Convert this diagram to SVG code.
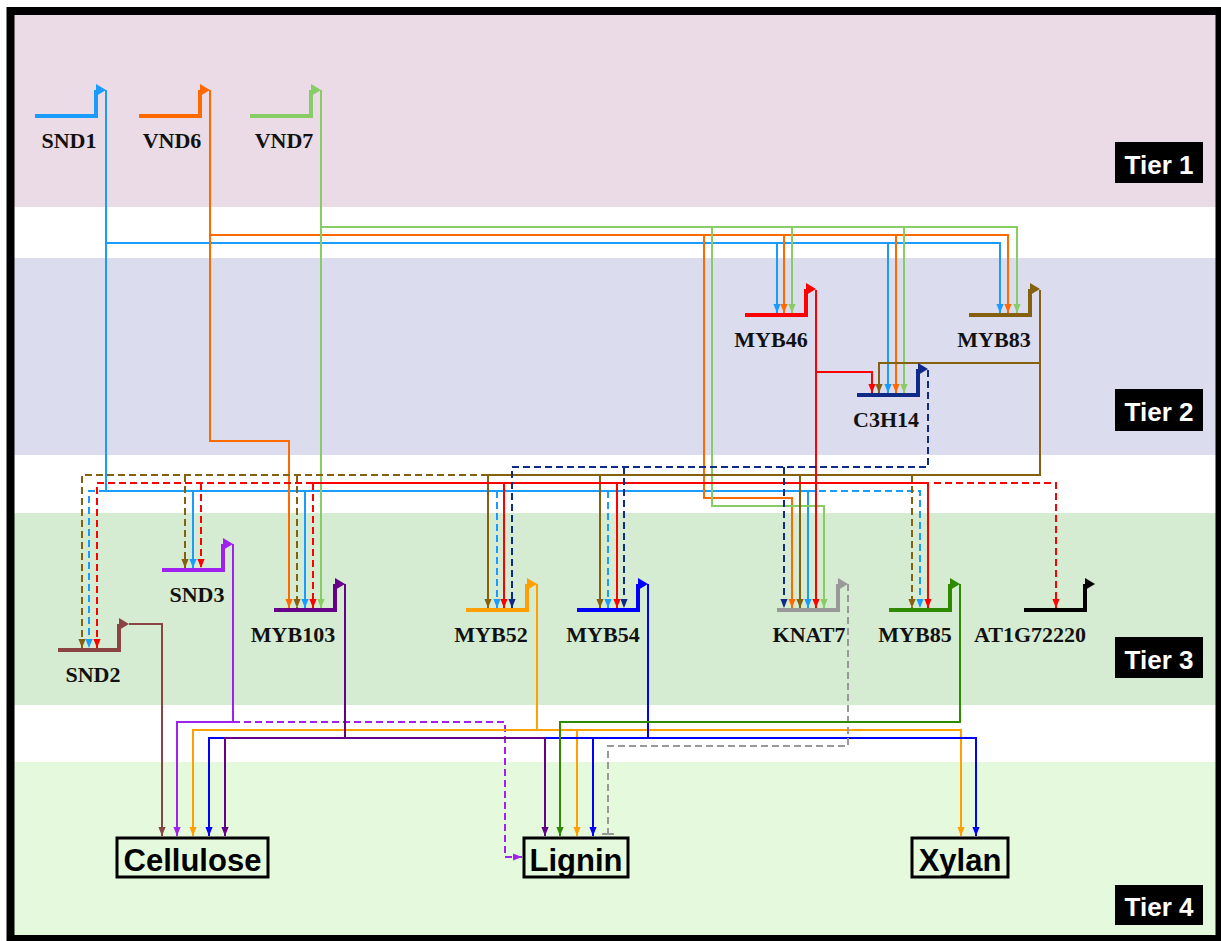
<svg xmlns="http://www.w3.org/2000/svg" width="1221" height="941" viewBox="0 0 1221 941">
<style>
.gl{font-family:"Liberation Serif","Times New Roman",serif;font-weight:bold;font-size:22px;fill:#111;text-anchor:middle}
.tier{font-family:"Liberation Sans",Arial,sans-serif;font-weight:bold;font-size:26px;fill:#fff;text-anchor:middle}
.tgt{font-family:"Liberation Sans",Arial,sans-serif;font-weight:bold;font-size:31px;fill:#000;text-anchor:middle}
.box{fill:none;stroke:#000;stroke-width:3}
.gs{fill:none;stroke-width:4}
.c{fill:none;stroke-width:2}
.d{stroke-dasharray:7 4}
.k1{stroke:#1A9CFF}.k2{stroke:#FF6A00}.k3{stroke:#88CC66}.k4{stroke:#FF0000}.k5{stroke:#85600F}.k6{stroke:#102A88}
.k7{stroke:#8B4444}.k8{stroke:#A020F0}.k9{stroke:#660088}.k10{stroke:#FFA000}.k11{stroke:#0000FF}.k12{stroke:#999999}.k13{stroke:#2F8A00}.k14{stroke:#000}
</style>
<defs>
<marker id="m1" viewBox="0 0 10 8" refX="10" refY="4" markerWidth="9" markerHeight="7.5" markerUnits="userSpaceOnUse" orient="auto"><path d="M0,0L10,4L0,8z" fill="#1A9CFF"/></marker>
<marker id="m2" viewBox="0 0 10 8" refX="10" refY="4" markerWidth="9" markerHeight="7.5" markerUnits="userSpaceOnUse" orient="auto"><path d="M0,0L10,4L0,8z" fill="#FF6A00"/></marker>
<marker id="m3" viewBox="0 0 10 8" refX="10" refY="4" markerWidth="9" markerHeight="7.5" markerUnits="userSpaceOnUse" orient="auto"><path d="M0,0L10,4L0,8z" fill="#88CC66"/></marker>
<marker id="m4" viewBox="0 0 10 8" refX="10" refY="4" markerWidth="9" markerHeight="7.5" markerUnits="userSpaceOnUse" orient="auto"><path d="M0,0L10,4L0,8z" fill="#FF0000"/></marker>
<marker id="m5" viewBox="0 0 10 8" refX="10" refY="4" markerWidth="9" markerHeight="7.5" markerUnits="userSpaceOnUse" orient="auto"><path d="M0,0L10,4L0,8z" fill="#85600F"/></marker>
<marker id="m6" viewBox="0 0 10 8" refX="10" refY="4" markerWidth="9" markerHeight="7.5" markerUnits="userSpaceOnUse" orient="auto"><path d="M0,0L10,4L0,8z" fill="#102A88"/></marker>
<marker id="m7" viewBox="0 0 10 8" refX="10" refY="4" markerWidth="9" markerHeight="7.5" markerUnits="userSpaceOnUse" orient="auto"><path d="M0,0L10,4L0,8z" fill="#8B4444"/></marker>
<marker id="m8" viewBox="0 0 10 8" refX="10" refY="4" markerWidth="9" markerHeight="7.5" markerUnits="userSpaceOnUse" orient="auto"><path d="M0,0L10,4L0,8z" fill="#A020F0"/></marker>
<marker id="m9" viewBox="0 0 10 8" refX="10" refY="4" markerWidth="9" markerHeight="7.5" markerUnits="userSpaceOnUse" orient="auto"><path d="M0,0L10,4L0,8z" fill="#660088"/></marker>
<marker id="m10" viewBox="0 0 10 8" refX="10" refY="4" markerWidth="9" markerHeight="7.5" markerUnits="userSpaceOnUse" orient="auto"><path d="M0,0L10,4L0,8z" fill="#FFA000"/></marker>
<marker id="m11" viewBox="0 0 10 8" refX="10" refY="4" markerWidth="9" markerHeight="7.5" markerUnits="userSpaceOnUse" orient="auto"><path d="M0,0L10,4L0,8z" fill="#0000FF"/></marker>
<marker id="m13" viewBox="0 0 10 8" refX="10" refY="4" markerWidth="9" markerHeight="7.5" markerUnits="userSpaceOnUse" orient="auto"><path d="M0,0L10,4L0,8z" fill="#2F8A00"/></marker>
</defs>

<g id="background">
<rect x="0" y="0" width="1221" height="941" fill="#fff"/>
<rect x="14" y="15" width="1202" height="192" fill="#EADBE6"/>
<rect x="14" y="258" width="1202" height="197" fill="#DCDCEF"/>
<rect x="14" y="513" width="1202" height="192" fill="#D5EBD2"/>
<rect x="14" y="762" width="1202" height="175" fill="#E5FADC"/>
</g>

<g id="tiers">
<rect x="1115" y="142" width="88" height="41" fill="#000"/><text class="tier" x="1159" y="174">Tier 1</text>
<rect x="1115" y="389" width="88" height="42" fill="#000"/><text class="tier" x="1159" y="421">Tier 2</text>
<rect x="1115" y="637" width="88" height="41" fill="#000"/><text class="tier" x="1159" y="669">Tier 3</text>
<rect x="1115" y="885" width="88" height="40" fill="#000"/><text class="tier" x="1159" y="916">Tier 4</text>
</g>

<g id="connectors">
<!-- SND1 -->
<g marker-end="url(#m1)" class="k1">
<path class="c k1" d="M106,90V491H808V608"/>
<path class="c k1" d="M106,243H1000V313"/>
<path class="c k1" d="M777,243V313"/>
<path class="c k1" d="M888,243V393"/>
<path class="c k1" d="M193,491V568"/>
<path class="c k1" d="M305,491V608"/>
<path class="c d k1" d="M106,491H89V648"/>
<path class="c d k1" d="M497,491V608"/>
<path class="c d k1" d="M608,491V608"/>
<path class="c d k1" d="M808,491H920V608"/>
</g>
<!-- VND6 -->
<g marker-end="url(#m2)">
<path class="c k2" d="M210,90V441H289V608"/>
<path class="c k2" d="M210,235H1008V313"/>
<path class="c k2" d="M784,235V313"/>
<path class="c k2" d="M896,235V393"/>
<path class="c k2" d="M704,235V498H792V608"/>
</g>
<!-- VND7 -->
<g marker-end="url(#m3)">
<path class="c k3" d="M321,90V608"/>
<path class="c k3" d="M321,227H1017V313"/>
<path class="c k3" d="M792,227V313"/>
<path class="c k3" d="M904,227V393"/>
<path class="c k3" d="M712,227V506H824V608"/>
</g>
<!-- MYB83 -->
<g marker-end="url(#m5)">
<path class="c k5" d="M1040,290V475H488V608"/>
<path class="c k5" d="M1040,363H879V393"/>
<path class="c k5" d="M600,475V608"/>
<path class="c k5" d="M800,475V608"/>
<path class="c d k5" d="M912,475V608"/>
<path class="c d k5" d="M488,475H82V648"/>
<path class="c d k5" d="M185,475V568"/>
<path class="c d k5" d="M297,475V608"/>
</g>
<!-- MYB46 -->
<g marker-end="url(#m4)">
<path class="c k4" d="M816,290V608"/>
<path class="c k4" d="M816,372H872V393"/>
<path class="c k4" d="M313,483H928V608"/>
<path class="c k4" d="M504,483V608"/>
<path class="c k4" d="M617,483V608"/>
<path class="c d k4" d="M313,483H97V648"/>
<path class="c d k4" d="M201,483V568"/>
<path class="c d k4" d="M313,483V608"/>
<path class="c d k4" d="M934,483H1056V608"/>
</g>
<!-- C3H14 -->
<g marker-end="url(#m6)">
<path class="c d k6" d="M928,370V467H512V608"/>
<path class="c d k6" d="M624,467V608"/>
<path class="c d k6" d="M784,467V608"/>
</g>
<!-- Tier 3 outputs -->
<path class="c k7" d="M129,624H162V836" marker-end="url(#m7)"/>
<g marker-end="url(#m8)">
<path class="c k8" d="M233,544V722H177V836"/>
<path class="c d k8" d="M233,722H505V857H522"/>
</g>
<g marker-end="url(#m10)">
<path class="c k10" d="M537,584V730H193V836"/>
<path class="c k10" d="M537,730H961V836"/>
<path class="c k10" d="M577,730V836"/>
</g>
<g marker-end="url(#m11)">
<path class="c k11" d="M648,584V738H209V836"/>
<path class="c k11" d="M648,738H976V836"/>
<path class="c k11" d="M593,738V836"/>
</g>
<g marker-end="url(#m9)">
<path class="c k9" d="M345,584V738H225V836"/>
<path class="c k9" d="M345,738H545V836"/>
</g>
<path class="c d k12" d="M848,584V746H608V834"/>
<path class="c k12" d="M602,834H614"/>
<path class="c k13" d="M960,584V722H560V836" marker-end="url(#m13)"/>
</g>

<g id="SND1"><path class="gs k1" d="M35,116H98M96,116V90"/><polygon points="96,84 106,90 96,96" fill="#1A9CFF"/><text class="gl" x="69" y="148">SND1</text></g>
<g id="VND6"><path class="gs k2" d="M139,116H202M200,116V90"/><polygon points="200,84 210,90 200,96" fill="#FF6A00"/><text class="gl" x="172" y="148">VND6</text></g>
<g id="VND7"><path class="gs k3" d="M250,116H313M311,116V90"/><polygon points="311,84 321,90 311,96" fill="#88CC66"/><text class="gl" x="284" y="148">VND7</text></g>

<g id="MYB46"><path class="gs k4" d="M745,315H808M806,315V289"/><polygon points="806,283 816,289 806,295" fill="#FF0000"/><text class="gl" x="771" y="347">MYB46</text></g>
<g id="MYB83"><path class="gs k5" d="M969,315H1032M1030,315V289"/><polygon points="1030,283 1040,289 1030,295" fill="#85600F"/><text class="gl" x="994" y="347">MYB83</text></g>
<g id="C3H14"><path class="gs k6" d="M857,395H920M918,395V369"/><polygon points="918,363 928,369 918,375" fill="#102A88"/><text class="gl" x="886" y="427">C3H14</text></g>

<g id="SND2"><path class="gs k7" d="M58,650H121M119,650V624"/><polygon points="119,618 129,624 119,630" fill="#8B4444"/><text class="gl" x="93" y="682">SND2</text></g>
<g id="SND3"><path class="gs k8" d="M162,570H225M223,570V544"/><polygon points="223,538 233,544 223,550" fill="#A020F0"/><text class="gl" x="197" y="602">SND3</text></g>
<g id="MYB103"><path class="gs k9" d="M274,610H337M335,610V584"/><polygon points="335,578 345,584 335,590" fill="#660088"/><text class="gl" x="293" y="642">MYB103</text></g>
<g id="MYB52"><path class="gs k10" d="M466,610H529M527,610V584"/><polygon points="527,578 537,584 527,590" fill="#FFA000"/><text class="gl" x="491" y="642">MYB52</text></g>
<g id="MYB54"><path class="gs k11" d="M577,610H640M638,610V584"/><polygon points="638,578 648,584 638,590" fill="#0000FF"/><text class="gl" x="603" y="642">MYB54</text></g>
<g id="KNAT7"><path class="gs k12" d="M777,610H840M838,610V584"/><polygon points="838,578 848,584 838,590" fill="#999999"/><text class="gl" x="809" y="642">KNAT7</text></g>
<g id="MYB85"><path class="gs k13" d="M889,610H952M950,610V584"/><polygon points="950,578 960,584 950,590" fill="#2F8A00"/><text class="gl" x="915" y="642">MYB85</text></g>
<g id="AT1G72220"><path class="gs k14" d="M1024,610H1087M1085,610V584"/><polygon points="1085,578 1095,584 1085,590" fill="#000"/><text class="gl" x="1030" y="642">AT1G72220</text></g>

<g id="Cellulose"><rect class="box" x="117" y="838" width="151" height="39"/><text class="tgt" x="192.5" y="871">Cellulose</text></g>
<g id="Lignin"><rect class="box" x="524" y="838" width="104" height="39"/><text class="tgt" x="576" y="871">Lignin</text></g>
<g id="Xylan"><rect class="box" x="912" y="838" width="96" height="39"/><text class="tgt" x="960" y="871">Xylan</text></g>

<rect x="10.5" y="11" width="1209" height="928" fill="none" stroke="#000" stroke-width="8"/>
</svg>
